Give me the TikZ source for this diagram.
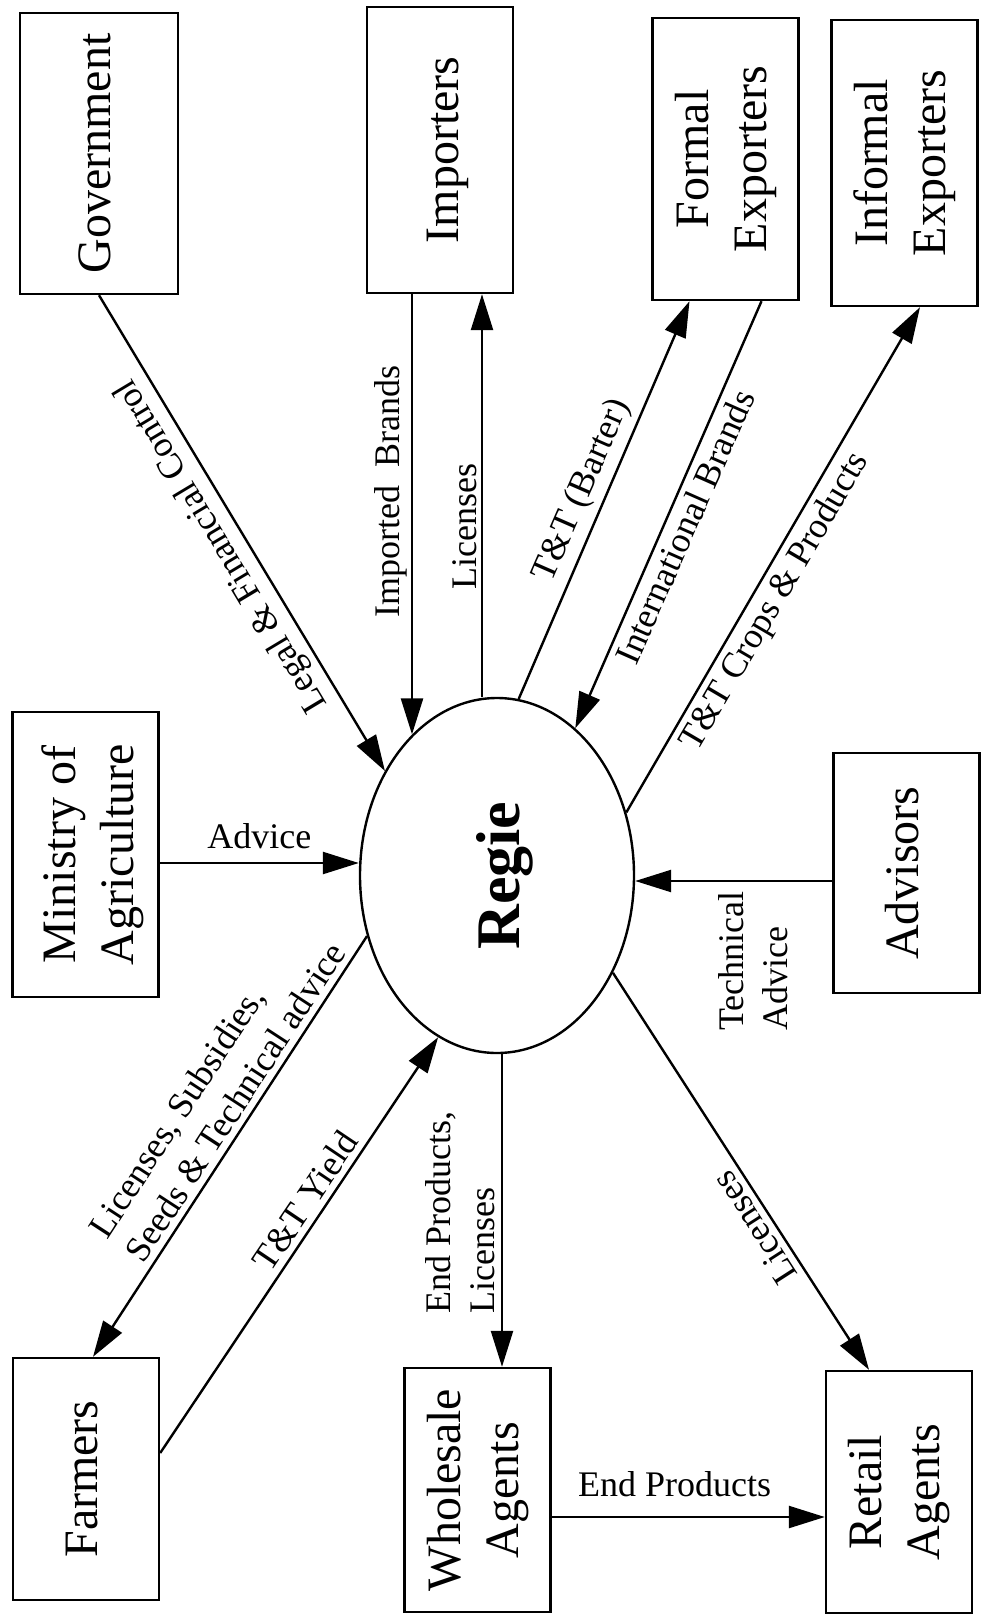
\documentclass[tikz,border=0pt]{standalone}
\usepackage{fontspec}
\setmainfont{Liberation Serif}
\usepackage{graphicx}
\usetikzlibrary{positioning, arrows.meta, shapes.geometric}
\newcommand{\boxlabel}[1]{\rotatebox{90}{\begin{tabular}{@{}c@{}}#1\end{tabular}}}
\tikzset{
  party/.style={draw, line width=1.2pt, inner sep=0pt, minimum width=73pt, font=\fontsize{24}{29}\selectfont},
  hub/.style={draw, ellipse, line width=1.2pt, inner sep=0pt, minimum width=137pt, minimum height=177.5pt, font=\fontsize{31}{37}\selectfont\bfseries},
  flow/.style={line width=1.2pt, -{Triangle[length=18pt, width=11pt]}},
  tag/.style={font=\fontsize{18}{22}\selectfont, inner sep=3pt},
}

\begin{document}
\begin{tikzpicture}[x=0.5pt, y=-0.5pt]
            \useasboundingbox (0,0) rectangle (981,1615);

            \node [party, minimum width=79pt, minimum height=140.5pt] (gov) at (99,153.5) {\boxlabel{Government}\hspace{18pt}};
            \node [party, minimum height=143pt] (importers) at (440,150) {\hspace{7pt}\boxlabel{Importers}};
            \node [party, minimum height=141pt] (formal) at (725.5,159) {\boxlabel{Formal\\Exporters}};
            \node [party, minimum height=143pt] (informal) at (904.5,163) {\boxlabel{Informal\\Exporters}};
            \node [party, minimum height=142.5pt] (ministry) at (85.5,854.5) {\hspace{7pt}\boxlabel{Ministry of\\Agriculture}};
            \node [party, minimum height=120pt] (advisors) at (906.5,873) {\boxlabel{Advisors}};
            \node [party, minimum height=121pt] (farmers) at (86,1479) {\boxlabel{Farmers}\hspace{21pt}};
            \node [party, minimum height=122pt] (wholesale) at (477.5,1490) {\boxlabel{Wholesale\\Agents}};
            \node [party, minimum height=121pt] (retail) at (899,1492) {\boxlabel{Retail\\Agents}};
            \node [hub] (regie) at (497,875.5) {\hspace{8pt}\rotatebox{90}{Regie}};

            \coordinate (ib) at ([xshift=-14pt]importers.south);
            \coordinate (li) at ([xshift=21pt]importers.south);
            \coordinate (adv) at ([yshift=-4.25pt]ministry.east);
            \coordinate (ta) at ([yshift=-4pt]advisors.west);
            \coordinate (wl) at ([xshift=12.25pt]wholesale.north);
            \coordinate (ep) at ([yshift=-13.5pt]wholesale.east);

            \draw[flow] (gov.south) -- node[tag, rotate=121, anchor=south, pos=0.5] {Legal \& Financial Control} (regie.137.5);
            \draw[flow] (ib) -- node[tag, rotate=90, anchor=south, inner sep=2pt, pos=0.448] {Imported\ \ Brands} (ib |- regie.121);
            \draw[flow] (li |- regie.north) -- node[tag, rotate=90, anchor=south, inner sep=2pt, pos=0.422] {Licenses} (li);
            \draw[flow] (regie.83.8) -- node[tag, rotate=66.4, anchor=south, pos=0.5] {T\&T (Barter)} ([xshift=-18pt]formal.south);
            \draw[flow] ([xshift=18pt]formal.south) -- node[tag, rotate=66.1, anchor=north, pos=0.51] {International Brands} (regie.62.9);
            \draw[flow] (regie.26.2) -- node[tag, rotate=59.6, anchor=north, pos=0.44] {T\&T Crops \& Products} ([xshift=7.75pt]informal.south);
            \draw[flow] (adv) -- node[tag, above=3.5pt] {Advice} (adv -| regie.west);
            \draw[flow] (ta) -- node[tag, rotate=90, anchor=east, inner xsep=4.5pt, pos=0.4, align=left] {Technical\\Advice} (ta -| regie.east);
            \draw[flow] (regie.205.3) -- node[tag, rotate=56.9, anchor=south, pos=0.42, align=left] {Licenses, Subsidies,\\Seeds \& Technical advice} ([xshift=3.5pt]farmers.north);
            \draw[flow] ([yshift=13pt]farmers.east) -- node[tag, rotate=56, anchor=south, pos=0.58] {T\&T Yield} (regie.250.2);
            \draw[flow] (wl |- regie.south) -- node[tag, rotate=90, anchor=south, pos=0.505, align=left] {End Products,\\Licenses} (wl);
            \draw[flow] (regie.320.3) -- node[tag, rotate=122.8, anchor=south, pos=0.616] {Licenses} ([xshift=-15pt]retail.north);
            \draw[flow] (ep) -- node[tag, above=6.5pt, pos=0.45] {End Products} (ep -| retail.west);
        \end{tikzpicture}
\end{document}
